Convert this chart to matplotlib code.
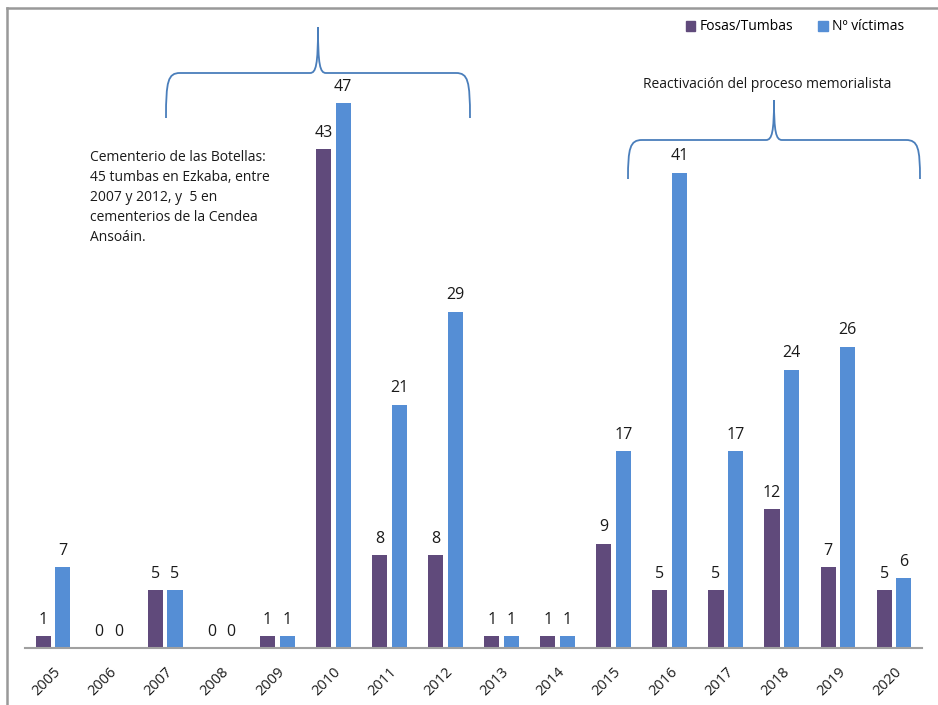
import matplotlib.pyplot as plt
import matplotlib.transforms as mtransforms
from matplotlib.path import Path
from matplotlib.patches import PathPatch, Patch
from matplotlib.lines import Line2D
import numpy as np

plt.rcParams['font.family'] = ['Open Sans', 'DejaVu Sans']

# Datos
years = ['2005', '2006', '2007', '2008', '2009', '2010', '2011', '2012',
         '2013', '2014', '2015', '2016', '2017', '2018', '2019', '2020']
fosas = [1, 0, 5, 0, 1, 43, 8, 8, 1, 1, 9, 5, 5, 12, 7, 5]
victimas = [7, 0, 5, 0, 1, 47, 21, 29, 1, 1, 17, 41, 17, 24, 26, 6]

c_fosas = '#604A7B'
c_vict = '#558ED5'
c_brace = '#4A7EBB'

W, H = 938, 705
fig = plt.figure(figsize=(W / 100, H / 100), dpi=100)
ax = fig.add_axes([25 / W, 1 - 648 / H, (922 - 25) / W, (648 - 8) / H])

x = np.arange(len(years))
bw = 0.27
off = 0.175
b1 = ax.bar(x - off, fosas, bw, color=c_fosas)
b2 = ax.bar(x + off, victimas, bw, color=c_vict)

for rects, vals in ((b1, fosas), (b2, victimas)):
    for r, v in zip(rects, vals):
        ax.annotate(str(v), (r.get_x() + r.get_width() / 2, v),
                    xytext=(0, 6), textcoords='offset points',
                    ha='center', va='bottom', fontsize=11.5, color='#1a1a1a')

ax.set_xlim(-0.5, len(years) - 0.5)
ax.set_ylim(0, 55.2)
ax.set_xticks(x)
ax.set_xticklabels(years, rotation=45, ha='right', rotation_mode='anchor',
                   fontsize=10.5, color='#1a1a1a')
ax.tick_params(axis='x', length=0, pad=12)
ax.set_yticks([])
for s in ['top', 'right', 'left']:
    ax.spines[s].set_visible(False)
ax.spines['bottom'].set_color('#A0A0A0')
ax.spines['bottom'].set_linewidth(1.5)

# Marco (izquierda y arriba)
fig.add_artist(Line2D([7 / W, 7 / W], [0, 1 - 8 / H], transform=fig.transFigure,
                      color='#999999', lw=1.8))
fig.add_artist(Line2D([7 / W, 1], [1 - 8 / H, 1 - 8 / H], transform=fig.transFigure,
                      color='#999999', lw=1.8))

# Llaves
px = mtransforms.Affine2D().scale(1 / W, -1 / H).translate(0, 1) + fig.transFigure


def brace(x0, x1, yend, yh, ytip):
    xc = (x0 + x1) / 2
    verts = [(x0, yend),
             (x0, yh + 8), (x0 + 2, yh), (x0 + 14, yh),
             (xc - 8, yh),
             (xc - 2, yh), (xc, yh - 8), (xc, ytip),
             (xc, yh - 8), (xc + 2, yh), (xc + 8, yh),
             (x1 - 14, yh),
             (x1 - 2, yh), (x1, yh + 8), (x1, yend)]
    codes = [Path.MOVETO,
             Path.CURVE4, Path.CURVE4, Path.CURVE4,
             Path.LINETO,
             Path.CURVE4, Path.CURVE4, Path.CURVE4,
             Path.CURVE4, Path.CURVE4, Path.CURVE4,
             Path.LINETO,
             Path.CURVE4, Path.CURVE4, Path.CURVE4]
    fig.add_artist(PathPatch(Path(verts, codes), transform=px, fill=False,
                             edgecolor=c_brace, lw=1.3))


brace(166, 470, 118, 73, 27)
brace(628, 920, 179, 140, 100)

fig.text(90 / W, 1 - 150 / H,
         'Cementerio de las Botellas:\n45 tumbas en Ezkaba, entre\n'
         '2007 y 2012, y  5 en\ncementerios de la Cendea\nAnsoáin.',
         ha='left', va='top', fontsize=10, linespacing=1.45, color='#1a1a1a')
fig.text(767 / W, 1 - 85 / H, 'Reactivación del proceso memorialista',
         ha='center', va='center', fontsize=10, color='#1a1a1a')

handles = [Patch(color=c_fosas, label='Fosas/Tumbas'),
           Patch(color=c_vict, label='Nº víctimas')]
fig.legend(handles=handles, loc='center', bbox_to_anchor=(795 / W, 1 - 27 / H),
           ncol=2, frameon=False, fontsize=10, handlelength=0.7, handleheight=0.7,
           handletextpad=0.3, columnspacing=1.8)

fig.savefig('out.png', dpi=100)
